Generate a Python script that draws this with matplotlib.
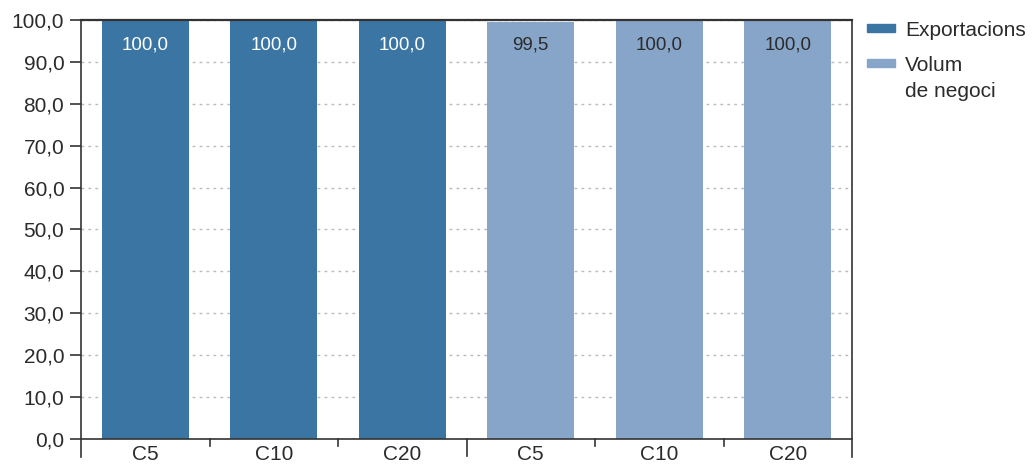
import matplotlib.pyplot as plt
from matplotlib.patches import Rectangle
import numpy as np

plt.rcParams['font.family'] = ['Liberation Sans', 'DejaVu Sans']

categories = ['C5', 'C10', 'C20', 'C5', 'C10', 'C20']
exportacions = [100.0, 100.0, 100.0]
volum = [99.5, 100.0, 100.0]
labels_exp = ['100,0', '100,0', '100,0']
labels_vol = ['99,5', '100,0', '100,0']
series_names = ['Exportacions', 'Volum\nde negoci']
yticks = np.arange(0, 101, 10)

c_dark = '#3b75a4'
c_light = '#87a5c8'
txt = '#2b2b2b'

W, H = 1033, 467
fig = plt.figure(figsize=(W/100, H/100), dpi=100)
ax = fig.add_axes([81/W, 1 - 439/H, (852 - 81)/W, (439 - 20)/H])

x = np.arange(6)
w = 0.68
ax.bar(x[:3], exportacions, width=w, color=c_dark, zorder=2)
ax.bar(x[3:], volum, width=w, color=c_light, zorder=2)

for xi, lab in zip(x[:3], labels_exp):
    ax.text(xi, 94, lab, ha='center', va='center', color='white', fontsize=13.5)
for xi, lab in zip(x[3:], labels_vol):
    ax.text(xi, 94, lab, ha='center', va='center', color=txt, fontsize=13.5)

ax.set_xlim(-0.5, 5.5)
ax.set_ylim(0, 100)
ax.set_yticks(yticks)
ax.set_yticklabels(['%d,0' % v for v in yticks], fontsize=15, color=txt)
ax.yaxis.grid(True, linestyle=(0, (2, 3)), color='#bbbbbb', linewidth=1, zorder=0)
ax.tick_params(axis='y', length=8, width=1.2, color='#333333', pad=4)

ax.set_xticks(x)
ax.set_xticklabels(categories, fontsize=15, color=txt)
ax.tick_params(axis='x', length=0, pad=4)
# boundary ticks between categories
for xb in [0.5, 1.5, 3.5, 4.5]:
    ax.plot([xb, xb], [0, -1.6], color='#333333', lw=1.2, clip_on=False)
ax.plot([2.5, 2.5], [0, -4.1], color='#333333', lw=1.2, clip_on=False)

for s in ['left', 'right']:
    ax.spines[s].set_bounds(-4.3, 100)
for s in ax.spines.values():
    s.set_color('#333333')
    s.set_linewidth(1.2)
ax.spines['top'].set_linewidth(1.6)

# legend, drawn by hand so the swatch lines up with the first text line
for (yc, col, name) in zip([28, 63], [c_dark, c_light], series_names):
    fig.patches.append(Rectangle((867/W, 1 - (yc + 4)/H), 28/W, 8/H,
                                 color=col, transform=fig.transFigure))
    fig.text(905/W, 1 - (yc - 7)/H, name, fontsize=15, color=txt,
             va='top', ha='left', linespacing=1.45)

fig.savefig('out.png', dpi=100)
